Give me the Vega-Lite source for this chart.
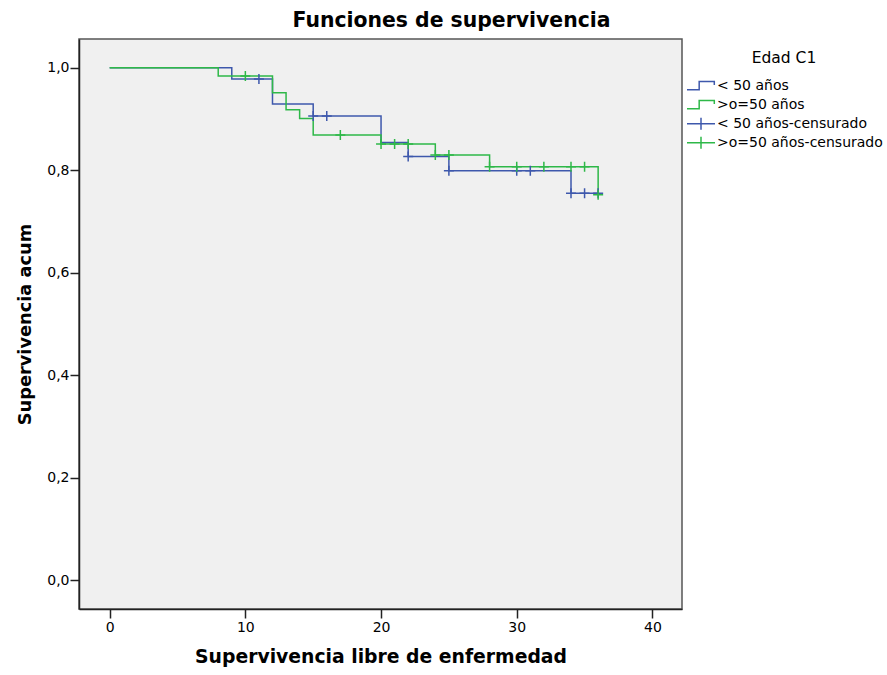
{
  "$schema": "https://vega.github.io/schema/vega-lite/v6.json",
  "autosize": "none",
  "padding": {"left": 79, "top": 39, "right": 205, "bottom": 66},
  "width": 603,
  "height": 570,
  "background": "white",
  "title": {"text": "Funciones de supervivencia", "font": "DejaVu Sans", "fontSize": 20.4, "fontWeight": "bold", "color": "black", "anchor": "middle", "frame": "group", "dx": 71, "offset": 8},
  "config": {
    "view": {"fill": "#f0f0f0", "stroke": "#555", "strokeWidth": 1.5},
    "axis": {"grid": false, "labelFont": "DejaVu Sans", "labelFontSize": 14, "labelColor": "black", "titleFont": "DejaVu Sans", "titleFontWeight": "bold", "titleColor": "black", "domainColor": "#222", "domainWidth": 1.5, "tickColor": "#222", "tickWidth": 1.5, "tickSize": 9},
    "legend": {"labelFont": "DejaVu Sans", "titleFont": "DejaVu Sans"}
  },
  "datasets": {
    "curvas": [
      {"grupo": "< 50 años", "t": 0, "s": 1.0},
      {"grupo": "< 50 años", "t": 9, "s": 0.978},
      {"grupo": "< 50 años", "t": 12, "s": 0.929},
      {"grupo": "< 50 años", "t": 15, "s": 0.906},
      {"grupo": "< 50 años", "t": 20, "s": 0.854},
      {"grupo": "< 50 años", "t": 22, "s": 0.827},
      {"grupo": "< 50 años", "t": 25, "s": 0.799},
      {"grupo": "< 50 años", "t": 34, "s": 0.755},
      {"grupo": "< 50 años", "t": 36, "s": 0.755},
      {"grupo": ">o=50 años", "t": 0, "s": 1.0},
      {"grupo": ">o=50 años", "t": 8, "s": 0.984},
      {"grupo": ">o=50 años", "t": 12, "s": 0.951},
      {"grupo": ">o=50 años", "t": 13, "s": 0.918},
      {"grupo": ">o=50 años", "t": 14, "s": 0.901},
      {"grupo": ">o=50 años", "t": 15, "s": 0.869},
      {"grupo": ">o=50 años", "t": 20, "s": 0.851},
      {"grupo": ">o=50 años", "t": 24, "s": 0.830},
      {"grupo": ">o=50 años", "t": 28, "s": 0.807},
      {"grupo": ">o=50 años", "t": 36, "s": 0.752}
    ],
    "censurados": [
      {"grupo": "< 50 años-censurado", "t": 11, "s": 0.978},
      {"grupo": "< 50 años-censurado", "t": 15, "s": 0.906},
      {"grupo": "< 50 años-censurado", "t": 16, "s": 0.906},
      {"grupo": "< 50 años-censurado", "t": 22, "s": 0.827},
      {"grupo": "< 50 años-censurado", "t": 25, "s": 0.799},
      {"grupo": "< 50 años-censurado", "t": 30, "s": 0.799},
      {"grupo": "< 50 años-censurado", "t": 31, "s": 0.799},
      {"grupo": "< 50 años-censurado", "t": 34, "s": 0.755},
      {"grupo": "< 50 años-censurado", "t": 35, "s": 0.755},
      {"grupo": "< 50 años-censurado", "t": 36, "s": 0.755},
      {"grupo": ">o=50 años-censurado", "t": 10, "s": 0.984},
      {"grupo": ">o=50 años-censurado", "t": 17, "s": 0.869},
      {"grupo": ">o=50 años-censurado", "t": 20, "s": 0.851},
      {"grupo": ">o=50 años-censurado", "t": 21, "s": 0.851},
      {"grupo": ">o=50 años-censurado", "t": 22, "s": 0.851},
      {"grupo": ">o=50 años-censurado", "t": 24, "s": 0.830},
      {"grupo": ">o=50 años-censurado", "t": 25, "s": 0.830},
      {"grupo": ">o=50 años-censurado", "t": 28, "s": 0.807},
      {"grupo": ">o=50 años-censurado", "t": 30, "s": 0.807},
      {"grupo": ">o=50 años-censurado", "t": 32, "s": 0.807},
      {"grupo": ">o=50 años-censurado", "t": 34, "s": 0.807},
      {"grupo": ">o=50 años-censurado", "t": 35, "s": 0.807},
      {"grupo": ">o=50 años-censurado", "t": 36, "s": 0.752}
    ]
  },
  "encoding": {
    "x": {"field": "t", "type": "quantitative", "scale": {"domain": [-2.26, 42.18], "nice": false, "zero": false},
      "axis": {"values": [0, 10, 20, 30, 40], "title": "Supervivencia libre de enfermedad", "titleFontSize": 18.8, "titlePadding": 13, "labelPadding": 2}},
    "y": {"field": "s", "type": "quantitative", "scale": {"domain": [-0.0557, 1.056], "nice": false, "zero": false},
      "axis": {"values": [0, 0.2, 0.4, 0.6, 0.8, 1.0], "labelExpr": "replace(format(datum.value, '.1f'), '.', ',')", "title": "Supervivencia acum", "titleFontSize": 17.8, "titlePadding": 12, "labelPadding": 1}},
    "color": {"field": "grupo", "type": "nominal",
      "scale": {"domain": ["< 50 años", ">o=50 años", "< 50 años-censurado", ">o=50 años-censurado"], "range": ["#3e58ac", "#2eb848", "#3e58ac", "#2eb848"]},
      "legend": {"orient": "none", "legendX": 607, "legendY": 12, "title": "Edad C1", "titleFontSize": 15.5, "titleFontWeight": "normal", "titleColor": "black", "titleAnchor": "middle", "titlePadding": 10,
        "labelFontSize": 14, "labelColor": "black", "labelOffset": 1, "labelLimit": 400, "symbolSize": 784, "clipHeight": 18.3, "rowPadding": 0,
        "symbolStrokeWidth": 1.5, "symbolFillColor": "transparent",
        "encode": {"symbols": {"update": {"shape": {"signal": "indexof(datum.value, 'censurado') >= 0 ? 'M-1,0H1M0,-0.43V0.43' : 'M-1,0.3H-0.13V-0.3H0.95V-0.05'"}, "fill": {"value": "transparent"}, "strokeWidth": {"value": 1.5}, "opacity": {"value": 1}}}}}}
  },
  "layer": [
    {"data": {"name": "curvas"}, "mark": {"type": "line", "interpolate": "step-after", "strokeWidth": 1.5}},
    {"data": {"name": "censurados"}, "mark": {"type": "point", "shape": "M-1,0H1M0,-1V1", "size": 100, "filled": false, "strokeWidth": 1.5, "opacity": 1}}
  ]
}
